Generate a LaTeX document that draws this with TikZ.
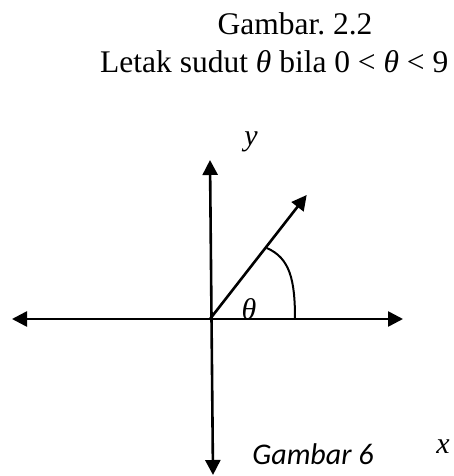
\documentclass[tikz,border=0pt]{standalone}
\usepackage{fontspec}
\setmainfont{Liberation Serif}
\newfontfamily\calibrifont{Carlito}
\usepackage{tikz}
\usetikzlibrary{arrows.meta}
\frenchspacing

\begin{document}
\begin{tikzpicture}[
    x=1pt, y=-1pt,
    font=\fontsize{30}{36}\selectfont,
    axis/.style={line width=2.6pt, {Triangle[length=15pt,width=15pt]}-{Triangle[length=15pt,width=15pt]}},
    ray/.style={line width=2.6pt, -{Triangle[length=15pt,width=15pt]}},
    lbl/.style={inner sep=0pt}
  ]
  \useasboundingbox (0,0) rectangle (453,476);

  % caption
  \node[lbl, anchor=base, font=\fontsize{31.5}{38}\selectfont] (cap) at (295,35) {Gambar. 2.2};
  \node[lbl, anchor=base west, font=\fontsize{31.5}{38}\selectfont] (sub) at (100,72.5)
    {Letak sudut \textit{θ} bila 0 < \textit{θ} < 9};

  % axes
  \coordinate (O)     at (210,319);
  \coordinate (xl)    at (12,319);
  \coordinate (xr)    at (403,319);
  \coordinate (yt)    at (210,160);
  \coordinate (yb)    at (213,475);
  \coordinate (tip)   at (306.7,195);
  \coordinate (afoot) at (295,319);
  \coordinate (atop)  at (266.7,248);

  \draw[axis] (xl) -- (xr);
  \draw[axis] (yb) -- (yt);
  \draw[ray]  (O) -- (tip);
  \draw[line width=2pt] (afoot) .. controls (295,280) and (290,258) .. (atop);

  \node[lbl] (ylab)  at (251,142) {\textit{y}};
  \node[lbl] (theta) at (249,309) {\textit{θ}};
  \node[lbl] (xlab)  at (443,447) {\textit{x}};
  \node[lbl] (fig)   at (313,454) {\calibrifont\itshape Gambar 6};
\end{tikzpicture}
\end{document}
